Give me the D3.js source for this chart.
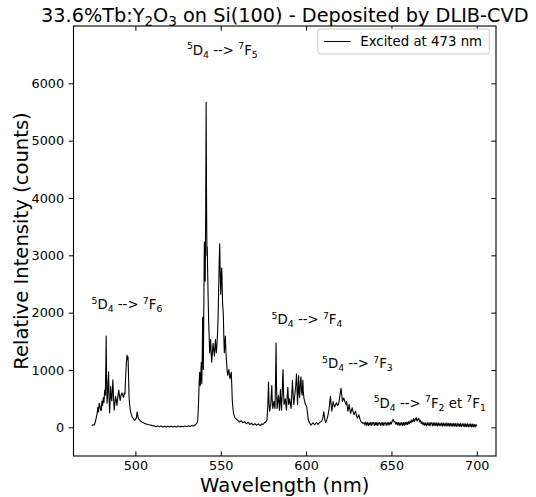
<!DOCTYPE html>
<html><head><meta charset="utf-8">
<script src="https://cdn.jsdelivr.net/npm/d3@7"></script>
<style>body{margin:0;background:#fff} svg text{font-family:"DejaVu Sans",sans-serif;fill:#000}</style>
</head><body><svg id="c" width="536" height="497"></svg>
<script>
// ---------- data ----------
const xTicks = [500, 550, 600, 650, 700];
const yTicks = [0, 1000, 2000, 3000, 4000, 5000, 6000];
const xDomain = [463.75, 711.25];
const yDomain = [-500, 7000];
const legendLabel = "Excited at 473 nm";
const titleParts = [["33.6%Tb:Y",""],["2","sub"],["O",""],["3","sub"],[" on Si(100) - Deposited by DLIB-CVD",""]];
const xLabel = "Wavelength (nm)";
const yLabel = "Relative Intensity (counts)";

// 5D4 -> 7F6 band
const bandF6 = [[474.5,30],[475.2,45],[475.9,40],[476.5,90],[477.1,170],[477.6,240],[478.0,350],[478.4,270],[478.8,420],[479.2,380],[479.6,310],[480.0,290],[480.4,460],[480.8,380],[481.2,520],[481.6,430],[482.0,650],[482.4,560],[482.7,1100],[482.9,1590],[483.1,900],[483.4,420],[483.7,560],[484.0,760],[484.3,970],[484.6,500],[484.9,250],[485.2,460],[485.5,710],[485.8,560],[486.2,460],[486.5,640],[486.8,830],[487.2,520],[487.6,300],[488.0,420],[488.4,540],[488.8,470],[489.2,380],[489.6,500],[490.0,590],[490.3,650],[490.7,540],[491.1,470],[491.6,560],[492.1,600],[492.6,560],[493.1,520],[493.5,600],[493.9,580],[494.2,820],[494.5,1000],[494.8,1150],[495.1,1260],[495.4,1180],[495.7,1230],[496.0,900],[496.3,520],[496.7,380],[497.1,290],[497.6,230],[498.2,175],[498.8,150],[499.5,120],[500.1,140],[500.6,165],[501.0,270],[501.4,200],[501.9,150],[502.5,125],[503.2,105],[504.0,90],[505.0,75],[506.0,60],[507.0,55],[508.0,45],[509.0,38],[510.0,30],[511.0,26],[512.0,10],[513.0,24],[514.0,8],[515.0,22],[516.0,6],[517.0,20],[518.0,4],[519.0,18],[520.0,6],[521.0,20],[522.0,4],[523.0,18],[524.0,6],[525.0,22],[526.0,8],[527.0,20],[528.0,10],[529.0,24],[530.0,12],[531.0,28],[532.0,16],[533.0,30],[534.0,24],[535.0,40],[536.0,70]];

// 5D4 -> 7F5 band
const bandF5 = [[536.5,110],[537.0,420],[537.3,730],[537.65,960],[538.0,730],[538.3,900],[538.6,1135],[538.9,760],[539.2,1300],[539.4,1920],[539.6,1400],[539.8,1010],[540.1,2100],[540.4,3230],[540.7,2700],[540.9,2550],[541.2,3800],[541.45,5670],[541.7,3900],[541.9,3000],[542.1,3150],[542.3,2775],[542.6,2300],[542.9,1870],[543.2,1600],[543.5,1300],[543.8,1420],[544.1,1530],[544.4,1300],[544.7,1135],[545.1,1300],[545.5,1465],[545.9,1350],[546.3,1240],[546.6,1400],[546.9,1530],[547.2,1380],[547.4,1300],[547.8,1450],[548.2,1690],[548.5,2000],[548.8,2435],[549.1,2900],[549.4,3200],[549.7,2700],[550.0,2320],[550.3,2650],[550.6,2780],[550.9,2400],[551.1,2150],[551.5,1980],[551.8,1600],[552.1,1300],[552.4,1450],[552.7,1590],[553.0,1350],[553.3,1190],[553.7,1000],[554.1,910],[554.5,980],[554.8,1010],[555.1,900],[555.4,850],[555.8,920],[556.2,960],[556.5,700],[556.8,455],[557.2,320],[557.6,230],[558.3,170],[559.2,140],[560.1,120],[561.0,90],[562.0,115],[563.0,80],[564.0,100],[565.0,62],[566.0,88],[567.0,50],[568.0,74],[569.0,40],[570.0,66],[571.0,34],[572.0,60],[573.0,30],[574.0,58],[575.0,55],[575.8,85],[576.5,100],[577.1,130]];

// 5D4 -> 7F4 band
const bandF4 = [[577.6,400],[578.0,790],[578.3,420],[578.7,280],[579.0,350],[579.3,395],[579.6,560],[579.9,730],[580.2,450],[580.5,330],[580.9,400],[581.2,455],[581.5,380],[581.8,330],[582.1,800],[582.4,1470],[582.7,700],[583.0,330],[583.4,450],[583.8,560],[584.1,420],[584.4,300],[584.7,500],[585.0,660],[585.3,420],[585.6,300],[586.0,600],[586.3,880],[586.5,1010],[586.8,600],[587.1,400],[587.5,450],[587.9,500],[588.2,380],[588.5,300],[588.9,520],[589.3,700],[589.6,520],[589.8,400],[590.1,450],[590.4,500],[590.8,400],[591.2,330],[591.6,560],[592.0,820],[592.4,560],[592.8,400],[593.2,520],[593.5,600],[593.9,720],[594.4,930],[594.7,650],[595.0,400],[595.3,650],[595.6,900],[595.9,600],[596.2,520],[596.6,780],[597.0,880],[597.3,640],[597.7,560],[598.1,820],[598.4,600],[598.8,500],[599.2,450],[599.6,400],[600.0,380],[600.4,360],[600.8,250],[601.2,150],[601.7,100],[602.2,70],[603.0,40],[604.0,80],[605.0,45],[606.1,85],[607.0,50],[608.0,90],[609.0,100],[609.8,160],[610.4,270],[610.9,150],[611.4,80],[612.1,130],[612.9,220]];

// 5D4 -> 7F3 band
const bandF3 = [[613.5,330],[614.0,480],[614.3,540],[614.7,380],[615.1,280],[615.5,380],[615.8,450],[616.2,400],[616.7,355],[617.2,390],[617.8,430],[618.4,380],[619.0,400],[619.4,470],[619.9,575],[620.2,640],[620.5,680],[620.9,560],[621.3,450],[621.7,490],[622.1,510],[622.5,470],[622.9,430],[623.3,400],[623.7,450],[624.1,380],[624.5,280],[624.9,340],[625.2,400],[625.6,320],[626.1,245],[626.5,290],[627.0,340],[627.5,280],[628.0,220],[628.5,250],[629.0,280],[629.5,210],[630.0,160],[630.5,190],[630.9,220],[631.5,150],[632.1,100],[632.8,85],[633.4,70]];

// 5D4 -> 7F2 / 7F1 tail
const bandF21 = [[634.0,82],[634.5,38],[635.0,90],[635.5,35],[636.0,86],[636.5,30],[637.0,80],[637.5,40],[638.0,91],[638.5,33],[639.0,78],[639.5,84],[640.0,32],[640.5,82],[641.0,36],[641.5,88],[642.0,30],[642.5,77],[643.0,83],[643.5,34],[644.0,80],[644.5,38],[645.0,86],[645.5,31],[646.0,78],[646.5,81],[647.0,33],[647.5,83],[648.0,40],[648.5,88],[649.0,42],[649.5,92],[650.0,60],[650.5,118],[651.0,138],[651.5,95],[652.0,106],[652.5,55],[653.0,88],[653.5,40],[654.0,84],[654.5,34],[655.0,80],[655.5,38],[656.0,85],[656.5,32],[657.0,82],[657.5,36],[658.0,88],[658.5,42],[659.0,92],[659.5,50],[660.0,100],[660.5,62],[661.0,110],[661.5,78],[662.0,130],[662.5,96],[663.0,152],[663.5,100],[664.0,146],[664.5,166],[665.0,110],[665.5,140],[666.0,158],[666.5,96],[667.0,120],[667.5,66],[668.0,96],[668.5,44],[669.0,82],[669.5,36],[670.0,80],[670.5,30],[671.0,78],[671.5,35],[672.0,82],[672.5,28],[673.0,76],[673.5,80],[674.0,26],[674.5,78],[675.0,30],[675.5,82],[676.0,27],[676.5,76],[677.0,24],[677.5,80],[678.0,30],[678.5,72],[679.0,26],[679.5,78],[680.0,22],[680.5,74],[681.0,28],[681.5,70],[682.0,20],[682.5,76],[683.0,24],[683.5,70],[684.0,18],[684.5,72],[685.0,22],[685.5,68],[686.0,16],[686.5,70],[687.0,20],[687.5,66],[688.0,14],[688.5,68],[689.0,18],[689.5,64],[690.0,16],[690.5,66],[691.0,12],[691.5,62],[692.0,16],[692.5,64],[693.0,10],[693.5,60],[694.0,14],[694.5,62],[695.0,8],[695.5,58],[696.0,12],[696.5,60],[697.0,6],[697.5,56],[698.0,10],[698.5,54],[699.0,4],[699.5,50],[700.0,20]];

// annotation anchors (wavelength, intensity at text baseline) and upper-level index
const annotWl    = [474.3, 530.2, 579.8, 609.3, 639.6];
const annotInt   = [2060, 6500, 1800, 1030, 340];
const annotLevel = [["6"], ["5"], ["4"], ["3"], ["2", "1"]];

// ---------- drawing ----------
const spectrum = [].concat(bandF6, bandF5, bandF4, bandF3, bandF21);
const m = {left: 73.5, right: 496, top: 26, bottom: 456};
const svg = d3.select("#c");
const x = d3.scaleLinear().domain(xDomain).range([m.left, m.right]);
const y = d3.scaleLinear().domain(yDomain).range([m.bottom, m.top]);

svg.append("clipPath").attr("id", "clip").append("rect")
  .attr("x", m.left).attr("y", m.top).attr("width", m.right - m.left).attr("height", m.bottom - m.top);

const line = d3.line().x(d => x(d[0])).y(d => y(d[1]));
svg.append("path").datum(spectrum).attr("clip-path", "url(#clip)")
  .attr("d", line).attr("fill", "none").attr("stroke", "#000")
  .attr("stroke-width", 1.1).attr("stroke-linejoin", "round");

const tickLen = 4.7, fs = 12.8, afs = 13.3;
const gB = svg.append("g").attr("transform", `translate(0,${m.bottom})`)
  .call(d3.axisBottom(x).tickValues(xTicks).tickSizeInner(-tickLen).tickSizeOuter(0).tickPadding(4.5).tickFormat(d3.format("d")));
gB.select(".domain").remove();
gB.selectAll("text").attr("font-size", fs).attr("dy", "0.71em");
const gT = svg.append("g").attr("transform", `translate(0,${m.top})`)
  .call(d3.axisTop(x).tickValues(xTicks).tickSizeInner(-tickLen).tickSizeOuter(0).tickFormat(""));
gT.select(".domain").remove();
const gL = svg.append("g").attr("transform", `translate(${m.left},0)`)
  .call(d3.axisLeft(y).tickValues(yTicks).tickSizeInner(tickLen).tickSizeOuter(0).tickPadding(4.7).tickFormat(d3.format("d")));
gL.select(".domain").remove();
gL.selectAll("text").attr("font-size", fs);
const gR = svg.append("g").attr("transform", `translate(${m.right},0)`)
  .call(d3.axisRight(y).tickValues(yTicks).tickSizeInner(-tickLen).tickSizeOuter(0).tickFormat(""));
gR.select(".domain").remove();
svg.selectAll(".tick line").attr("stroke", "#000").attr("stroke-width", 1);
svg.selectAll(".tick text").attr("font-family", "DejaVu Sans").attr("fill", "#000");

svg.append("rect").attr("x", m.left).attr("y", m.top)
  .attr("width", m.right - m.left).attr("height", m.bottom - m.top)
  .attr("fill", "none").attr("stroke", "#000").attr("stroke-width", 1.1);

function rich(sel, parts, size) {
  let cur = 0;
  parts.forEach(([t, kind]) => {
    const off = kind === "sup" ? -0.42 * size : kind === "sub" ? 0.22 * size : 0;
    sel.append("tspan").attr("dy", off - cur)
      .attr("font-size", kind ? size * 0.7 : size).text(t);
    cur = off;
  });
}

const title = svg.append("text").attr("x", (m.left + m.right) / 2).attr("y", 21.5)
  .attr("text-anchor", "middle");
rich(title, titleParts, 19.3);

svg.append("text").attr("x", (m.left + m.right) / 2).attr("y", 491.5)
  .attr("text-anchor", "middle").attr("font-size", 19.6).text(xLabel);
svg.append("text").attr("transform", `translate(28,${(m.top + m.bottom) / 2}) rotate(-90)`)
  .attr("text-anchor", "middle").attr("font-size", 19.6).text(yLabel);

annotWl.forEach((wl, i) => {
  const lv = annotLevel[i];
  let parts = [["5","sup"],["D",""],["4","sub"],[" --> ",""],["7","sup"],["F",""],[lv[0],"sub"]];
  if (lv.length > 1) parts = parts.concat([[" et ",""],["7","sup"],["F",""],[lv[1],"sub"]]);
  const t = svg.append("text").attr("x", x(wl)).attr("y", y(annotInt[i]));
  rich(t, parts, afs);
});

const lg = svg.append("g");
const lt = lg.append("text").attr("font-size", afs).text(legendLabel);
const tw = lt.node().getComputedTextLength();
const pad = 0.4 * afs, boxR = m.right - 0.5 * afs, boxT = m.top + 3;
const boxH = afs + 2 * pad + 1, handle = 2 * afs, gap = 0.8 * afs;
const boxW = pad * 2 + handle + gap + tw + 2;
const boxL = boxR - boxW;
lg.insert("rect", "text").attr("x", boxL).attr("y", boxT).attr("width", boxW).attr("height", boxH)
  .attr("rx", 2.5).attr("fill", "#fff").attr("fill-opacity", 0.8).attr("stroke", "#ccc").attr("stroke-width", 1);
lt.attr("x", boxL + pad + handle + gap).attr("y", boxT + boxH / 2).attr("dy", "0.36em");
lg.append("line").attr("x1", boxL + pad + 1).attr("x2", boxL + pad + 1 + handle)
  .attr("y1", boxT + boxH / 2).attr("y2", boxT + boxH / 2).attr("stroke", "#000").attr("stroke-width", 1);
</script></body></html>
